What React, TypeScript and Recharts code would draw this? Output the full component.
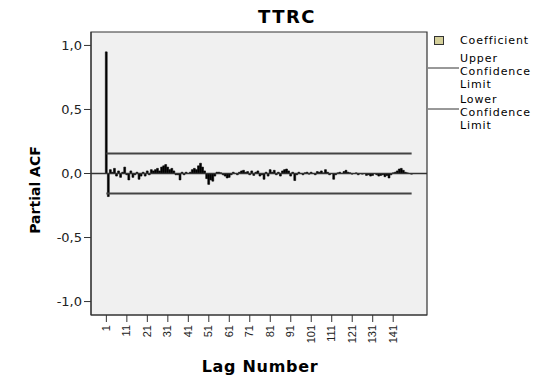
import { ComposedChart, Bar, Line, XAxis, YAxis, CartesianGrid, ReferenceLine, ReferenceArea } from "recharts";

// partial autocorrelation per lag (lags 1..150)
const lags = Array.from({ length: 150 }, (_, i) => i + 1);
const pacf = [
  0.95, -0.18, 0.03, 0.01, 0.04, -0.02, 0.02, -0.03, 0.01, 0.05,
  -0.01, -0.05, 0.02, -0.03, -0.01, 0.01, -0.045, -0.02, 0.01, -0.02,
  0.02, -0.01, 0.03, 0.02, 0.03, 0.04, 0.02, 0.05, 0.06, 0.07,
  0.05, 0.03, 0.04, 0.02, -0.01, -0.01, -0.05, 0.01, -0.01, 0.01,
  0.0, 0.01, 0.03, 0.04, 0.03, 0.06, 0.08, 0.05, 0.02, -0.04,
  -0.085, -0.05, -0.06, -0.02, 0.01, 0.01, 0.005, -0.01, -0.02, -0.035,
  -0.03, -0.01, 0.01, 0.0, -0.01, 0.01, 0.02, 0.025, 0.01, 0.015,
  -0.01, 0.02, -0.015, 0.01, 0.02, -0.02, -0.01, -0.045, 0.01, -0.02,
  0.03, 0.01, 0.025, -0.01, 0.01, -0.02, 0.02, 0.03, 0.035, 0.02,
  -0.02, 0.01, -0.055, -0.01, 0.01, 0.0, -0.01, 0.005, 0.01, -0.005,
  0.01, 0.0, -0.01, 0.015, 0.01, 0.02, 0.005, 0.03, 0.01, -0.01,
  0.0, -0.045, -0.01, 0.005, 0.01, 0.0, 0.015, 0.025, 0.01, 0.005,
  -0.005, 0.0, 0.005, -0.01, 0.0, -0.005, 0.0, -0.015, -0.01, -0.02,
  -0.015, 0.0, -0.01, -0.02, -0.015, -0.01, -0.025, -0.015, -0.035, -0.01,
  0.005, 0.01, 0.02, 0.035, 0.04, 0.025, 0.01, 0.005, 0.0, -0.005,
];
const confLimit = 0.157;
const xTicks = [1, 11, 21, 31, 41, 51, 61, 71, 81, 91, 101, 111, 121, 131, 141];
const yTicks = [-1, -0.5, 0, 0.5, 1];
const xDomain: [number, number] = [-6.5, 157.5];
const yDomain: [number, number] = [-1.105, 1.105];

const data = lags.map((lag, i) => ({
  lag,
  coef: pacf[i],
  upper: confLimit,
  lower: -confLimit,
}));

const FONT = "'DejaVu Sans', sans-serif";
const ink = "#222";

function LagTick({ x, y, payload }: any) {
  return (
    <text
      transform={`translate(${x + 3.5},${y + 1}) rotate(-90)`}
      textAnchor="end"
      fontFamily="'Liberation Sans', Arial, sans-serif"
      fontSize={11}
      fill={ink}
    >
      {payload.value}
    </text>
  );
}

const fmtY = (v: number) => v.toFixed(1).replace(".", ",");

export default function App() {
  return (
    <div style={{ position: "relative", width: 545, height: 382, background: "#fff" }}>
      <style>{"body{margin:0}"}</style>
      <ComposedChart width={545} height={382} data={data} margin={{ top: 32, right: 118, bottom: 0, left: 31 }}>
        <CartesianGrid fill="#f0f0f0" horizontal={false} vertical={false} />
        <XAxis
          type="number"
          dataKey="lag"
          domain={xDomain}
          ticks={xTicks}
          interval={0}
          height={67}
          tickSize={7}
          tick={<LagTick />}
          stroke="#333"
          allowDataOverflow
        />
        <YAxis
          type="number"
          domain={yDomain}
          ticks={yTicks}
          width={60}
          tickSize={7}
          tickFormatter={fmtY}
          tick={{ fontFamily: FONT, fontSize: 13, fill: ink }}
          stroke="#333"
          allowDataOverflow
        />
        <ReferenceArea x1={xDomain[0]} x2={xDomain[1]} y1={yDomain[0]} y2={yDomain[1]} fill="none" stroke="#333" strokeWidth={1.2} />
        <ReferenceLine y={0} stroke="#333" strokeWidth={1.5} />
        <Bar dataKey="coef" fill="#000" stroke="#000" strokeWidth={0.6} barSize={3} isAnimationActive={false} />
        <Line dataKey="upper" stroke="#444" strokeWidth={2} dot={false} isAnimationActive={false} />
        <Line dataKey="lower" stroke="#444" strokeWidth={2} dot={false} isAnimationActive={false} />
      </ComposedChart>
      <svg width={545} height={382} style={{ position: "absolute", left: 0, top: 0, pointerEvents: "none" }}>
        <text x={287} y={23} textAnchor="middle" fontFamily={FONT} fontWeight="bold" fontSize={18} letterSpacing={1.5} fill="#000">
          TTRC
        </text>
        <text x={260} y={372} textAnchor="middle" fontFamily={FONT} fontWeight="bold" fontSize={16} letterSpacing={0.7} fill="#000">
          Lag Number
        </text>
        <text transform="translate(40,190) rotate(-90)" textAnchor="middle" fontFamily={FONT} fontWeight="bold" fontSize={14} fill="#000">
          Partial ACF
        </text>
        <rect x={434.5} y={36.5} width={9} height={8} fill="#d4cf9a" stroke="#333" />
        <g fontFamily={FONT} fontSize={11} letterSpacing={0.9} fill="#000">
          <text x={460} y={44}>Coefficient</text>
          <text x={460} y={62}>Upper</text>
          <text x={460} y={75}>Confidence</text>
          <text x={460} y={88}>Limit</text>
          <text x={460} y={103}>Lower</text>
          <text x={460} y={116}>Confidence</text>
          <text x={460} y={129}>Limit</text>
        </g>
        <line x1={428} x2={459} y1={68} y2={68} stroke="#333" />
        <line x1={428} x2={459} y1={109} y2={109} stroke="#333" />
      </svg>
    </div>
  );
}
